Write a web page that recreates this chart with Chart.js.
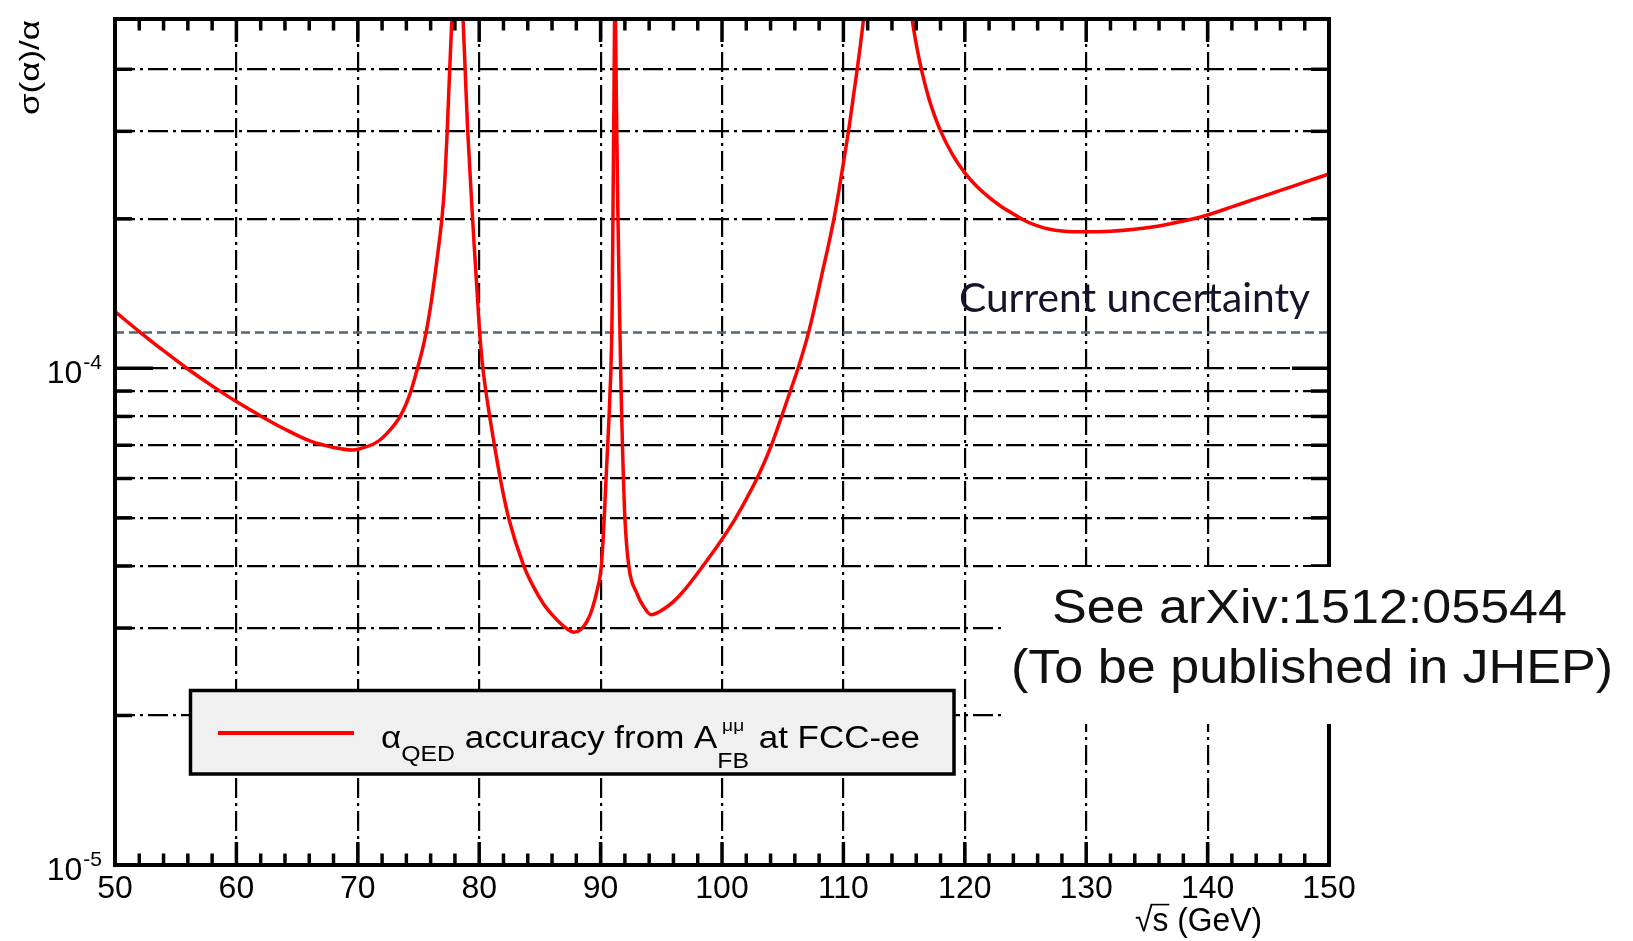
<!DOCTYPE html>
<html>
<head>
<meta charset="utf-8">
<title>alpha_QED accuracy from A_FB at FCC-ee</title>
<script src="https://cdn.jsdelivr.net/npm/chart.js@4.4.1/dist/chart.umd.min.js"></script>
<style>
html,body{margin:0;padding:0;background:#ffffff;overflow:hidden;}
#wrap{width:1633px;height:941px;position:relative;}
canvas{display:block;}
</style>
</head>
<body>
<div id="wrap"><canvas id="chart" width="1633" height="941"></canvas></div>
<script>
// ---------------- data ----------------
const energyGeV = [
  50.0, 52.0, 54.0, 56.0, 58.0, 60.0, 62.0, 64.0, 66.0, 68.0, 69.6, 70.0, 71.6, 72.5, 73.5, 74.3, 74.9, 75.5, 76.0, 76.5, 76.75, 76.94, 77.15, 77.35, 77.57, 77.8, 77.9,
  78.25,
  78.57, 78.67, 78.86, 79.05, 79.5, 80.0, 80.24, 80.5, 80.9, 81.25, 81.75, 82.43, 83.67, 84.5, 85.3, 86.1, 86.9, 87.8, 88.35, 88.89, 89.3, 89.71,
  90.06, 90.3, 90.45, 90.58, 90.7, 90.78, 90.85, 90.95, 91.02, 91.09, 91.15, 91.19, 91.23, 91.31, 91.42, 91.56, 91.65, 91.69, 91.74, 91.8, 91.88,
  92.0, 92.32, 93.0, 93.5, 94.15, 95.0, 96.0, 97.0, 98.0, 99.0, 100.0, 101.0, 102.0, 103.0, 104.0, 105.6, 106.26, 107.17, 108.2, 109.28, 110.2, 110.46, 111.2, 111.7, 111.9,
  113.6,
  115.4, 115.66, 116.0, 116.5, 117.0, 117.5, 118.0, 119.0, 120.0, 121.0, 122.0, 123.0, 124.0, 125.0, 126.0, 127.0, 128.0, 129.0, 130.0,
  132.0, 134.0, 136.0, 138.0, 140.0, 142.0, 144.0, 146.0, 148.0, 150.0
];
const sigmaAlpha = [
  1.301e-4, 1.186e-4, 1.085e-4, 9.97e-5, 9.22e-5, 8.57e-5, 8.02e-5, 7.54e-5, 7.15e-5, 6.93e-5, 6.85e-5, 6.87e-5, 7.11e-5, 7.44e-5, 8.01e-5, 8.88e-5, 9.97e-5, 1.14e-4, 1.335e-4, 1.637e-4, 1.83e-4, 2.017e-4, 2.34e-4, 2.951e-4, 3.988e-4, 5.392e-4, 5.943e-4,
  null,
  5.75e-4, 5.052e-4, 3.896e-4, 3.02e-4, 1.917e-4, 1.217e-4, 1.034e-4, 9.17e-5, 7.9e-5, 7.008e-5, 5.976e-5, 4.99e-5, 4.003e-5, 3.622e-5, 3.355e-5, 3.173e-5, 3.034e-5, 2.943e-5, 2.976e-5, 3.097e-5, 3.273e-5, 3.571e-5,
  4.0e-5, 5.0e-5, 6.0e-5, 6.96e-5, 8.02e-5, 9.0e-5, 9.97e-5, 1.31e-4, 2.08e-4, 3.31e-4, 5.05e-4, 8.0e-4, 5.05e-4, 3.31e-4, 2.08e-4, 1.31e-4, 1.0e-4, 9.0e-5, 8.0e-5, 7.0e-5, 6.0e-5,
  5.0e-5, 4.0e-5, 3.52e-5, 3.329e-5, 3.192e-5, 3.252e-5, 3.391e-5, 3.602e-5, 3.871e-5, 4.178e-5, 4.529e-5, 4.936e-5, 5.455e-5, 6.082e-5, 6.93e-5, 8.96e-5, 9.99e-5, 1.191e-4, 1.534e-4, 2.036e-4, 2.778e-4, 3.048e-4, 4.102e-4, 5.148e-4, 5.727e-4,
  null,
  5.603e-4, 5.043e-4, 4.494e-4, 3.923e-4, 3.523e-4, 3.23e-4, 3.006e-4, 2.689e-4, 2.475e-4, 2.322e-4, 2.208e-4, 2.118e-4, 2.046e-4, 1.98e-4, 1.935e-4, 1.905e-4, 1.89e-4, 1.884e-4, 1.883e-4,
  1.888e-4, 1.905e-4, 1.935e-4, 1.979e-4, 2.036e-4, 2.114e-4, 2.196e-4, 2.281e-4, 2.37e-4, 2.462e-4
];
const currentUncertainty = 1.18e-4;
const uncertaintyRange = [50, 150];
const xTickValues = [50, 60, 70, 80, 90, 100, 110, 120, 130, 140, 150];
const yGridValues = [1e-5, 2e-5, 3e-5, 4e-5, 5e-5, 6e-5, 7e-5, 8e-5, 9e-5, 1e-4, 2e-4, 3e-4, 4e-4];
const yDecadeLabels = [{value: 1e-5, base: '10', exp: '-5'}, {value: 1e-4, base: '10', exp: '-4'}];
const xAxisTitle = ['√', 's', ' (GeV)'];
const yAxisTitle = 'σ(α)/α';
const noteText = 'Current uncertainty';
const citationLines = ['See arXiv:1512:05544', '(To be published in JHEP)'];
const legendParts = {symbol: 'α', symbolSub: 'QED', middle: ' accuracy from A', sup: 'μμ', sub: 'FB', tail: ' at FCC-ee'};

// ---------------- helpers ----------------
const SANS = '"Liberation Sans", Arial, Helvetica, sans-serif';
function stretchText(ctx, text, x, baseline, size, family, targetWidth) {
  ctx.font = size + 'px ' + family;
  const w = ctx.measureText(text).width;
  ctx.save();
  ctx.translate(x, baseline);
  ctx.scale(targetWidth ? targetWidth / w : 1, 1);
  ctx.textAlign = 'left';
  ctx.textBaseline = 'alphabetic';
  ctx.fillText(text, 0, 0);
  ctx.restore();
}
function line(ctx, x1, y1, x2, y2) {
  ctx.beginPath(); ctx.moveTo(x1, y1); ctx.lineTo(x2, y2); ctx.stroke();
}

const rootStyle = {
  id: 'rootStyle',
  afterDraw(chart) {
    const {ctx, chartArea: a, scales: {x: xs, y: ys}} = chart;
    ctx.save();
    // ---- inward tick marks (ROOT style) ----
    ctx.strokeStyle = '#000';
    ctx.lineWidth = 3.5;
    for (let v = xTickValues[0] + 2; v < xTickValues[xTickValues.length - 1]; v += 2) {
      const px = xs.getPixelForValue(v);
      const L = (v % 10 === 0) ? 23 : 11.5;
      line(ctx, px, a.bottom, px, a.bottom - L);
      line(ctx, px, a.top, px, a.top + L);
    }
    yGridValues.forEach(v => {
      if (v === yGridValues[0]) return;
      const py = ys.getPixelForValue(v);
      const major = yDecadeLabels.some(d => d.value === v);
      line(ctx, a.left, py, a.left + (major ? 38 : 17), py);
      line(ctx, a.right, py, a.right - (major ? 37 : 18), py);
    });
    // ---- frame ----
    ctx.lineWidth = 4;
    ctx.strokeRect(a.left, a.top, a.right - a.left, a.bottom - a.top);

    // ---- y decade labels 10^-n ----
    ctx.fillStyle = '#000';
    yDecadeLabels.forEach(d => {
      const py = ys.getPixelForValue(d.value);
      ctx.textBaseline = 'alphabetic';
      ctx.textAlign = 'right';
      ctx.font = '21px ' + SANS;
      const ew = ctx.measureText(d.exp).width;
      ctx.fillText(d.exp, a.left - 13, py + 0.5);
      ctx.font = '32px ' + SANS;
      ctx.fillText(d.base, a.left - 14 - ew, py + 15);
    });

    // ---- axis titles ----
    {
      const size = 33, x0 = 1135, base = 931, target = 127;
      ctx.font = size + 'px ' + SANS;
      const full = xAxisTitle.join('');
      const w = ctx.measureText(full).width;
      ctx.save();
      ctx.translate(x0, base);
      ctx.scale(target / w, 1);
      ctx.textAlign = 'left';
      ctx.fillText(full, 0, 0);
      const wr = ctx.measureText(xAxisTitle[0]).width;
      const ws = ctx.measureText(xAxisTitle[1]).width;
      ctx.lineWidth = 1.6;
      line(ctx, wr - 2, -size * 0.80, wr + ws + 1, -size * 0.80);
      ctx.restore();
    }
    {
      const size = 28;
      ctx.font = size + 'px ' + SANS;
      const w = ctx.measureText(yAxisTitle).width;
      ctx.save();
      ctx.translate(39, 115);
      ctx.rotate(-Math.PI / 2);
      ctx.scale(95 / w, 1);
      ctx.textAlign = 'left';
      ctx.fillText(yAxisTitle, 0, 0);
      ctx.restore();
    }

    // ---- "Current uncertainty" note ----
    ctx.fillStyle = '#15152a';
    const yU = ys.getPixelForValue(currentUncertainty);
    stretchText(ctx, noteText, 959, yU - 20.5, 40, 'Lato, "Open Sans", sans-serif', 351);

    // ---- legend box ----
    {
      const bx = 190.5, by = 690.5, bw = 763.5, bh = 83.5;
      ctx.fillStyle = '#f0f0f0';
      ctx.fillRect(bx, by, bw, bh);
      ctx.strokeStyle = '#000';
      ctx.lineWidth = 3.5;
      ctx.strokeRect(bx, by, bw, bh);
      ctx.strokeStyle = '#ff0000';
      ctx.lineWidth = 4;
      line(ctx, 218, 733, 354, 733);
      const base = 748, x0 = 381, target = 539;
      const S = 31, s = 22, ss = 17;
      const f = n => n + 'px ' + SANS;
      ctx.font = f(S); const w1 = ctx.measureText(legendParts.symbol).width;
      ctx.font = f(s); const w2 = ctx.measureText(legendParts.symbolSub).width;
      ctx.font = f(S); const w3 = ctx.measureText(legendParts.middle).width;
      ctx.font = f(ss); const w4a = ctx.measureText(legendParts.sup).width;
      ctx.font = f(s); const w4b = ctx.measureText(legendParts.sub).width;
      const w4 = Math.max(w4a, w4b);
      ctx.font = f(S); const w5 = ctx.measureText(legendParts.tail).width;
      const total = w1 + w2 + w3 + w4 + w5;
      ctx.save();
      ctx.translate(x0, base);
      ctx.scale(target / total, 1);
      ctx.fillStyle = '#000';
      ctx.textAlign = 'left';
      ctx.textBaseline = 'alphabetic';
      let cx = 0;
      ctx.font = f(S); ctx.fillText(legendParts.symbol, cx, 0); cx += w1;
      ctx.font = f(s); ctx.fillText(legendParts.symbolSub, cx, 13); cx += w2;
      ctx.font = f(S); ctx.fillText(legendParts.middle, cx, 0); cx += w3;
      ctx.font = f(ss); ctx.fillText(legendParts.sup, cx + (w4 - w4a) / 2, -17);
      ctx.font = f(s); ctx.fillText(legendParts.sub, cx, 19.5); cx += w4;
      ctx.font = f(S); ctx.fillText(legendParts.tail, cx, 0);
      ctx.restore();
    }

    // ---- citation overlay ----
    ctx.fillStyle = '#ffffff';
    ctx.fillRect(1001, 567, 1633 - 1001, 724 - 567);
    ctx.fillStyle = '#111111';
    stretchText(ctx, citationLines[0], 1052, 623.3, 49, SANS, 515);
    stretchText(ctx, citationLines[1], 1011, 683.3, 49, SANS, 602);
    ctx.restore();
  }
};

const curvePoints = energyGeV.map((e, i) => ({x: e, y: sigmaAlpha[i]}));
const uncertaintyPoints = uncertaintyRange.map(e => ({x: e, y: currentUncertainty}));

new Chart(document.getElementById('chart'), {
  type: 'line',
  data: {
    datasets: [
      {
        label: 'α_QED accuracy from A_FB^μμ at FCC-ee',
        data: curvePoints,
        borderColor: '#ff0000',
        borderWidth: 3.5,
        pointRadius: 0,
        cubicInterpolationMode: 'monotone',
        spanGaps: false,
        fill: false
      },
      {
        label: 'Current uncertainty',
        data: uncertaintyPoints,
        borderColor: '#56656f',
        borderWidth: 2.5,
        borderDash: [9, 5],
        pointRadius: 0,
        fill: false
      }
    ]
  },
  options: {
    responsive: false,
    animation: false,
    devicePixelRatio: 1,
    elements: {line: {capBezierPoints: false}},
    layout: {padding: {top: 19, right: 304, left: 0, bottom: 0}},
    plugins: {legend: {display: false}, tooltip: {enabled: false}, title: {display: false}},
    scales: {
      x: {
        type: 'linear',
        min: 50, max: 150,
        afterBuildTicks: s => { s.ticks = xTickValues.map(v => ({value: v})); },
        afterFit: s => { s.height = 76; },
        grid: {color: '#000', lineWidth: 2.2, drawTicks: false},
        border: {display: false, dash: [20, 5, 3, 5]},
        ticks: {
          color: '#000',
          padding: 5,
          maxRotation: 0,
          autoSkip: false,
          font: {family: '"Liberation Sans", Arial, sans-serif', size: 32},
          callback: v => String(v)
        }
      },
      y: {
        type: 'logarithmic',
        min: 1e-5, max: 5.05e-4,
        afterBuildTicks: s => { s.ticks = yGridValues.map(v => ({value: v})); },
        afterFit: s => { s.width = 115; },
        grid: {color: '#000', lineWidth: 2.2, drawTicks: false},
        border: {display: false, dash: [20, 5, 3, 5]},
        ticks: {display: false}
      }
    }
  },
  plugins: [rootStyle]
});
</script>
</body>
</html>
